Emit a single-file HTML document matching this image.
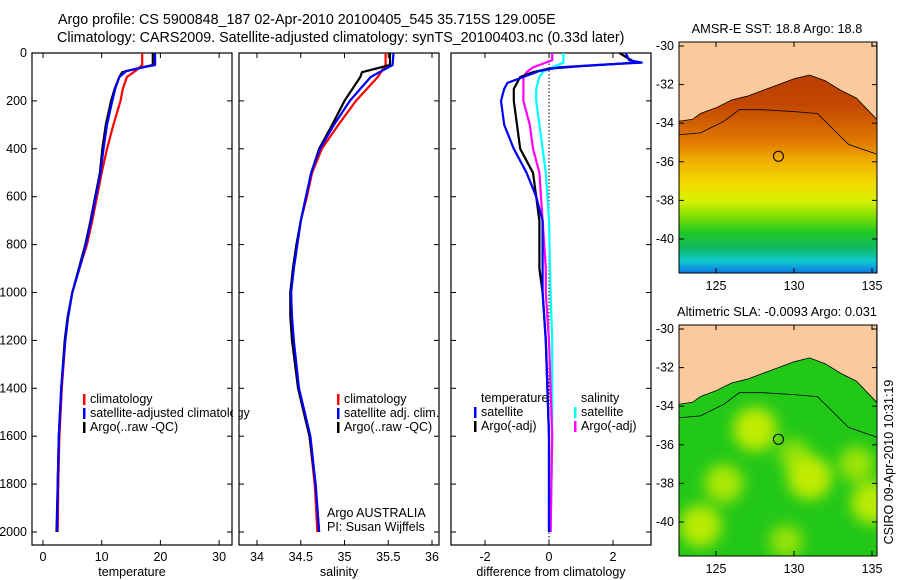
<!DOCTYPE html>
<html><head><meta charset="utf-8"><style>
body{margin:0;background:#fff;}
svg{display:block;font-family:"Liberation Sans",sans-serif;}
text{fill:#000;}
</style></head><body>
<svg id="fig" width="900" height="580" viewBox="0 0 900 580" xmlns="http://www.w3.org/2000/svg">
<defs>
<linearGradient id="sstGrad" x1="0" y1="0" x2="0" y2="1">
<stop offset="0.00" stop-color="#b83a00"/>
<stop offset="0.19" stop-color="#c24800"/>
<stop offset="0.37" stop-color="#e07a00"/>
<stop offset="0.46" stop-color="#f0b000"/>
<stop offset="0.56" stop-color="#f4d800"/>
<stop offset="0.65" stop-color="#d8f000"/>
<stop offset="0.74" stop-color="#70dc08"/>
<stop offset="0.80" stop-color="#20c820"/>
<stop offset="0.88" stop-color="#10b868"/>
<stop offset="0.94" stop-color="#10c8d0"/>
<stop offset="1.00" stop-color="#1070e8"/>
</linearGradient>
<clipPath id="clipMap1"><rect x="679" y="42" width="198" height="231"/></clipPath>
<clipPath id="clipMap2"><rect x="679" y="325" width="198" height="231"/></clipPath>
<filter id="blur4"><feGaussianBlur stdDeviation="7"/></filter>
</defs>
<text x="58" y="24" font-size="14.3">Argo profile: CS 5900848_187 02-Apr-2010 20100405_545 35.715S 129.005E</text>
<text x="57" y="42" font-size="14.3">Climatology: CARS2009. Satellite-adjusted climatology: synTS_20100403.nc (0.33d later)</text>
<g id="panels"></g>
<g id="maps"></g>
<text transform="translate(893,462) rotate(-90)" font-size="12.5" text-anchor="middle">CSIRO 09-Apr-2010 10:31:19</text>
</svg>
<script>
// ---- data ----
const depthTicks=[0,200,400,600,800,1000,1200,1400,1600,1800,2000];
const tempTicks=[0,10,20,30];
const salTicks=[34,34.5,35,35.5,36];
const diffTicks=[-2,0,2];
const tClimDepth=[0,50,70,100,150,200,300,400,500,600,700,800,900,1000,1100,1200,1400,1600,1800,2000];
const tClim=[16.9,16.9,16,14.3,13.6,13.2,12,10.9,10,9.2,8.4,7.5,6.2,5,4.3,3.8,3.2,2.8,2.6,2.5];
const tSatDepth=[0,50,60,75,100,150,200,300,400,500,600,700,800,900,1000,1100,1200,1400,1600,1800,2000];
const tSat=[19.1,19.1,17,14.2,13,12.3,11.8,10.9,10.3,9.8,9,8.2,7.3,6.2,5,4.3,3.8,3.1,2.7,2.5,2.4];
const tArgoDepth=[0,50,65,80,100,150,200,300,400,500,600,700,800,900,1000,1100,1200,1400,1600,1800,2000];
const tArgo=[18.7,18.7,16,13.5,13,12.2,11.6,10.7,10.1,9.7,8.9,8.1,7.2,6.1,5,4.2,3.7,3.1,2.7,2.5,2.3];
const sClimDepth=[0,50,100,200,300,400,500,600,700,800,900,1000,1100,1200,1400,1600,1800,2000];
const sClim=[35.47,35.47,35.38,35.13,34.93,34.74,34.63,34.57,34.5,34.46,34.42,34.39,34.39,34.41,34.47,34.6,34.66,34.69];
const sSatDepth=[0,50,100,200,300,400,500,600,700,800,900,1000,1100,1200,1400,1600,1800,2000];
const sSat=[35.56,35.55,35.3,35.06,34.88,34.72,34.62,34.56,34.5,34.46,34.42,34.39,34.4,34.42,34.48,34.61,34.67,34.71];
const sArgoDepth=[0,50,80,100,200,300,400,500,600,700,800,900,1000,1100,1200,1400,1600,1800,2000];
const sArgo=[35.52,35.52,35.2,35.18,35.0,34.86,34.71,34.62,34.56,34.5,34.45,34.41,34.38,34.38,34.4,34.47,34.6,34.67,34.71];
const dTSatDepth=[0,30,40,50,60,75,100,125,150,200,300,400,500,600,700,800,1000,1200,1400,1600,2000];
const dTSat=[2.4,2.5,2.9,1.5,0.3,-0.3,-0.8,-1.3,-1.4,-1.5,-1.4,-1.1,-0.7,-0.4,-0.2,-0.2,-0.2,-0.1,-0.05,0,0];
const dTArgoDepth=[0,40,55,65,80,100,150,200,300,400,500,600,700,900,1000,1200,1400,1600,2000];
const dTArgo=[2.2,2.7,1,0,-0.5,-0.9,-1.1,-1.1,-1.0,-0.9,-0.5,-0.4,-0.3,-0.3,-0.2,-0.1,-0.05,0,0];
const dSSatDepth=[0,40,60,80,100,150,200,300,400,500,700,1000,1200,1600,2000];
const dSSat=[0.45,0.45,0.1,-0.2,-0.3,-0.4,-0.4,-0.3,-0.2,-0.1,0,0.05,0.1,0.1,0.05];
const dSArgoDepth=[0,30,60,80,100,200,300,400,500,700,900,1000,1200,1400,1600,2000];
const dSArgo=[0.1,0.1,-0.5,-0.7,-0.8,-0.8,-0.6,-0.5,-0.3,-0.2,-0.1,-0.1,0,0.05,0.1,0.05];
const latTicks=[-30,-32,-34,-36,-38,-40];
const lonTicks=[125,130,135];
const coastLon=[122.6,123.5,124,125,126,127,128,129,130,131,132,133,134,135.3];
const coastLat=[-33.9,-33.8,-33.5,-33.2,-32.8,-32.6,-32.3,-32.0,-31.7,-31.5,-31.8,-32.3,-32.7,-33.8];
const contLon=[122.6,124,125.5,126.5,128,130,131.5,132.5,133.5,135.3];
const contLat=[-34.6,-34.5,-33.9,-33.3,-33.3,-33.4,-33.5,-34.3,-35.1,-35.6];
const argoLon=129.005, argoLat=-35.715;
const slaBlobLon=[127.5,131,124,135,130,134,125.5,129.5];
const slaBlobLat=[-35.2,-37.7,-40.2,-39,-36.5,-37,-38,-41];
const slaBlobVal=[1,1,0.9,0.9,0.3,0.5,0.7,0.4];

// ---- helpers ----
const NS='http://www.w3.org/2000/svg';
function mk(tag,attrs,parent){const e=document.createElementNS(NS,tag);for(const k in attrs)e.setAttribute(k,attrs[k]);parent.appendChild(e);return e;}
const P=document.getElementById('panels');
const yD=d=>53+d*0.2395;
const pTop=53,pBot=545;
function panel(name,x0,x1,xs,ticks,fmt,label){
  const g=mk('g',{},P);
  
  
  const fr=mk('rect',{x:x0,y:pTop,width:x1-x0,height:pBot-pTop,fill:'none',stroke:'#000','stroke-width':1.2},g);
  
  
  depthTicks.forEach(d=>{
    mk('line',{x1:x0,x2:x0+5,y1:yD(d),y2:yD(d),stroke:'#000'},g);
    mk('line',{x1:x1-5,x2:x1,y1:yD(d),y2:yD(d),stroke:'#000'},g);
  });
  ticks.forEach(v=>{
    const x=xs(v);
    mk('line',{x1:x,x2:x,y1:pBot,y2:pBot-5,stroke:'#000'},g);
    mk('line',{x1:x,x2:x,y1:pTop,y2:pTop+5,stroke:'#000'},g);
    const t=mk('text',{x:x,y:pBot+16,'font-size':12.5,'text-anchor':'middle'},g);
    t.textContent=fmt(v);
    
    
  });
  const l=mk('text',{x:(x0+x1)/2,y:pBot+31,'font-size':12.5,'text-anchor':'middle'},g);
  l.textContent=label;
  
  
  return g;
}
function line(g,name,depths,vals,xs,color){
  const pts=depths.map((d,i)=>xs(vals[i]).toFixed(1)+','+yD(d).toFixed(1)).join(' ');
  const p=mk('polyline',{points:pts,fill:'none',stroke:color,'stroke-width':2.2,'stroke-linejoin':'round'},g);
  
  
}
function legend(g,x,y,color,txt,name){
  if(color){mk('rect',{x:x,y:y-9,width:2.5,height:11,fill:color},g);}
  const t=mk('text',{x:x+7,y:y,'font-size':12.5},g);
  t.textContent=txt;
  
  
}
depthTicks.forEach(d=>{
  const t=mk('text',{x:27,y:yD(d)+4,'font-size':12.5,'text-anchor':'end'},P);
  t.textContent=d;
  
  
});
const xT=v=>43+v*5.87;
const g1=panel('temperature-panel',32,232,xT,tempTicks,v=>v,'temperature');
line(g1,'temp-climatology-line',tClimDepth,tClim,xT,'#ff0000');
line(g1,'temp-argo-line',tArgoDepth,tArgo,xT,'#000000');
line(g1,'temp-satellite-line',tSatDepth,tSat,xT,'#0000ff');
legend(g1,83,403,'#ff0000','climatology','legend-climatology');
legend(g1,83,417,'#0000ff','satellite-adjusted climatology','legend-satellite');
legend(g1,83,431,'#000','Argo(..raw -QC)','legend-argo');
mk('rect',{x:233,y:395,width:6,height:30,fill:'#fff'},P);
const xS=v=>257+(v-34)*87.5;
const g2=panel('salinity-panel',239,439,xS,salTicks,v=>v,'salinity');
line(g2,'sal-climatology-line',sClimDepth,sClim,xS,'#ff0000');
line(g2,'sal-argo-line',sArgoDepth,sArgo,xS,'#000000');
line(g2,'sal-satellite-line',sSatDepth,sSat,xS,'#0000ff');
legend(g2,337,403,'#ff0000','climatology','legend-climatology');
legend(g2,337,417,'#0000ff','satellite adj. clim.','legend-satellite');
legend(g2,337,431,'#000','Argo(..raw -QC)','legend-argo');
legend(g2,320,517,null,'Argo AUSTRALIA','institution-label');
legend(g2,320,531,null,'PI: Susan Wijffels','pi-label');
const xDf=v=>549+v*32;
const g3=panel('difference-panel',451,651,xDf,diffTicks,v=>v,'difference from climatology');
const zl=mk('line',{x1:xDf(0),x2:xDf(0),y1:pTop,y2:pBot,stroke:'#000','stroke-dasharray':'1.5,2'},g3);


line(g3,'diff-sal-satellite-line',dSSatDepth,dSSat,xDf,'#00ffff');
line(g3,'diff-sal-argo-line',dSArgoDepth,dSArgo,xDf,'#ff00ff');
line(g3,'diff-temp-argo-line',dTArgoDepth,dTArgo,xDf,'#000000');
line(g3,'diff-temp-satellite-line',dTSatDepth,dTSat,xDf,'#0000ff');
legend(g3,474,402,null,'temperature','legend-temp-header');
legend(g3,474,416,'#0000ff','satellite','legend-temp-satellite');
legend(g3,474,430,'#000','Argo(-adj)','legend-temp-argo');
legend(g3,574,402,null,'salinity','legend-sal-header');
legend(g3,574,416,'#00ffff','satellite','legend-sal-satellite');
legend(g3,574,430,'#ff00ff','Argo(-adj)','legend-sal-argo');

const M=document.getElementById('maps');
const mx=lon=>716+(lon-125)*15.6;
function map(name,oy,title,kind){
  const my=lat=>oy+46+(-30-lat)*19.3;
  const g=mk('g',{},M);
  
  
  const c=mk('g',{'clip-path':'url(#'+(kind==='sst'?'clipMap1':'clipMap2')+')'},g);
  if(kind==='sst'){
    mk('rect',{x:679,y:my(-31),width:198,height:my(-41.8)-my(-31),fill:'url(#sstGrad)'},c);
  } else {
    mk('rect',{x:679,y:oy+42,width:198,height:231,fill:'#22c818'},c);
    const bg=mk('g',{filter:'url(#blur4)'},c);
    slaBlobLon.forEach((lo,i)=>{
      const b=mk('circle',{cx:mx(lo),cy:my(slaBlobLat[i]),r:13+slaBlobVal[i]*9,fill:'#d0f000','fill-opacity':0.5+slaBlobVal[i]*0.4},bg);
      
      
    });
  }
  let pts=coastLon.map((lo,i)=>mx(lo).toFixed(1)+','+my(coastLat[i]).toFixed(1));
  pts.unshift(mx(122.6)+','+my(-29.5));
  pts.push(mx(135.3)+','+my(-29.5));
  const lp=mk('polygon',{points:pts.join(' '),fill:'#fbca9c',stroke:'#000','stroke-width':0.8},c);
  
  
  const cp=mk('polyline',{points:contLon.map((lo,i)=>mx(lo).toFixed(1)+','+my(contLat[i]).toFixed(1)).join(' '),fill:'none',stroke:'#000','stroke-width':0.8},c);
  
  
  const ac=mk('circle',{cx:mx(argoLon),cy:my(argoLat),r:5,fill:'none',stroke:'#000','stroke-width':1},g);
  
  
  const fr=mk('rect',{x:679,y:oy+42,width:198,height:231,fill:'none',stroke:'#000','stroke-width':1},g);
  
  
  latTicks.forEach(la=>{
    const y=my(la);
    mk('line',{x1:679,x2:684,y1:y,y2:y,stroke:'#000'},g);
    mk('line',{x1:872,x2:877,y1:y,y2:y,stroke:'#000'},g);
    const t=mk('text',{x:674,y:y+4,'font-size':12.5,'text-anchor':'end'},g);
    t.textContent=la;
    
    
  });
  lonTicks.forEach(lo=>{
    const x=mx(lo);
    mk('line',{x1:x,x2:x,y1:oy+273,y2:oy+268,stroke:'#000'},g);
    mk('line',{x1:x,x2:x,y1:oy+42,y2:oy+47,stroke:'#000'},g);
    const t=mk('text',{x:x,y:oy+290,'font-size':12.5,'text-anchor':'middle'},g);
    t.textContent=lo;
    
    
  });
  const tt=mk('text',{x:777,y:oy+33,'font-size':12.8,'text-anchor':'middle'},g);
  tt.textContent=title;
  
  
}
map('sst-map',0,'AMSR-E SST: 18.8 Argo: 18.8','sst');
map('sla-map',283,'Altimetric SLA: -0.0093 Argo: 0.031','sla');
</script>
</body></html>
